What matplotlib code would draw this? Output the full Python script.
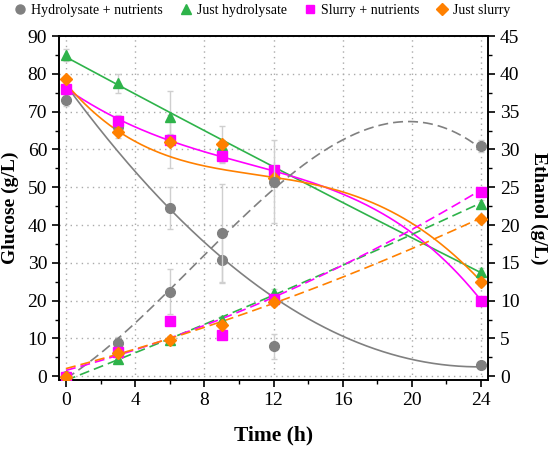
import numpy as np
import matplotlib
matplotlib.use("Agg")
import matplotlib.pyplot as plt
from matplotlib.ticker import MultipleLocator
from matplotlib.lines import Line2D

plt.rcParams['font.family'] = ['Liberation Serif', 'DejaVu Serif']

time = [0, 3, 6, 9, 12, 24]
labels = ["Hydrolysate + nutrients", "Just hydrolysate", "Slurry + nutrients", "Just slurry"]
colors = ["#808080", "#2eb34a", "#ff00ff", "#ff8000"]
markers = ["o", "^", "s", "D"]
msizes = [7, 7.5, 6.5, 6.5]

# Glucose (g/L, left axis) - measured points
glu_hyd_nut = [73.0, 66.0, 44.5, 30.7, 7.9, 3.0]
glu_hyd = [85.0, 77.5, 68.5, 61.0, 54.0, 27.5]
glu_slu_nut = [76.0, 67.5, 62.5, 58.3, 54.5, 20.0]
glu_slu = [78.5, 64.5, 62.0, 61.3, 52.5, 24.8]
glu_err_hyd_nut = [1.5, 1.5, 5.5, 6.0, 3.3, 0.8]
glu_err_hyd = [1.5, 2.5, 7.0, 1.5, 1.0, 1.0]
glu_err_slu_nut = [1.0, 1.5, 1.5, 1.5, 1.0, 1.0]
glu_err_slu = [1.0, 1.5, 7.0, 5.0, 1.0, 1.0]

# Ethanol (g/L, right axis) - measured points
eth_hyd_nut = [0.0, 4.4, 11.2, 18.9, 25.7, 30.5]
eth_hyd = [-0.2, 2.3, 4.8, 7.5, 11.0, 22.8]
eth_slu_nut = [-0.1, 3.2, 7.35, 5.4, 10.2, 24.4]
eth_slu = [-0.15, 3.1, 4.75, 6.75, 9.75, 20.8]
eth_err_hyd_nut = [0.3, 0.8, 3.0, 6.5, 5.5, 0.8]
eth_err_hyd = [0.2, 0.3, 0.5, 0.5, 0.5, 0.5]
eth_err_slu_nut = [0.2, 0.3, 0.5, 0.5, 0.5, 0.5]
eth_err_slu = [0.2, 0.3, 0.5, 0.5, 0.5, 0.5]

# Fitted trend curves
fit_time = [0, 4, 8, 12, 16, 20, 24]
fit_glu_hyd_nut = [77.0, 54.2, 35.5, 21.0, 10.4, 4.5, 2.5]
fit_glu_hyd = [84.5, 74.6, 64.9, 55.4, 46.0, 36.7, 27.3]
fit_glu_slu_nut = [76.2, 65.8, 59.5, 54.5, 47.8, 38.2, 20.0]
fit_glu_slu = [77.5, 61.8, 56.0, 52.7, 48.3, 40.8, 25.0]
fit_eth_hyd_nut = [0.0, 6.5, 15.5, 26.0, 31.3, 32.7, 30.5]
fit_eth_time = [0, 6, 12, 20, 24]
fit_eth_hyd = [-0.4, 4.6, 10.9, 18.9, 22.8]
fit_eth_slu_nut = [0.9, 4.8, 10.4, 19.8, 24.4]
fit_eth_slu = [1.1, 4.75, 9.8, 16.9, 20.9]

glu_series = [glu_hyd_nut, glu_hyd, glu_slu_nut, glu_slu]
glu_errs = [glu_err_hyd_nut, glu_err_hyd, glu_err_slu_nut, glu_err_slu]
eth_series = [eth_hyd_nut, eth_hyd, eth_slu_nut, eth_slu]
eth_errs = [eth_err_hyd_nut, eth_err_hyd, eth_err_slu_nut, eth_err_slu]
glu_fits = [(fit_time, fit_glu_hyd_nut, 2), (fit_time, fit_glu_hyd, 2),
            (fit_time, fit_glu_slu_nut, 4), (fit_time, fit_glu_slu, 4)]
eth_fits = [(fit_time, fit_eth_hyd_nut, 3), (fit_eth_time, fit_eth_hyd, 2),
            (fit_eth_time, fit_eth_slu_nut, 2), (fit_eth_time, fit_eth_slu, 2)]

fig = plt.figure(figsize=(5.48, 4.49), dpi=100)
ax = fig.add_axes([0.1077, 0.1537, 0.7828, 0.7661])
ax2 = ax.twinx()

t = np.array(time, dtype=float)
tt = np.linspace(0, 24, 200)
errc = "#cfcfcf"

for i in range(4):
    g = np.array(glu_series[i]); e = np.array(eth_series[i])
    ax.errorbar(t, g, yerr=glu_errs[i], fmt="none", ecolor=errc, elinewidth=1, capsize=2, zorder=2)
    ax2.errorbar(t, e, yerr=eth_errs[i], fmt="none", ecolor=errc, elinewidth=1, capsize=2, zorder=2)
    ft, fv, deg = glu_fits[i]
    pg = np.polyfit(ft, fv, deg)
    ft, fv, deg = eth_fits[i]
    pe = np.polyfit(ft, fv, deg)
    ax.plot(tt, np.polyval(pg, tt), color=colors[i], lw=1.2, zorder=3)
    ax2.plot(tt, np.polyval(pe, tt), color=colors[i], lw=1.2, ls=(0, (6, 3)), zorder=3)
    ax.plot(t, g, ls="none", marker=markers[i], color=colors[i], ms=msizes[i], zorder=4)
    ax2.plot(t, e, ls="none", marker=markers[i], color=colors[i], ms=msizes[i], zorder=4)

ax.set_xlim(-0.4, 24.4)
ax.set_ylim(-1.0, 90)
ax2.set_ylim(-0.5, 45)
ax.xaxis.set_major_locator(MultipleLocator(4))
ax.xaxis.set_minor_locator(MultipleLocator(2))
ax.yaxis.set_major_locator(MultipleLocator(10))
ax.yaxis.set_minor_locator(MultipleLocator(5))
ax2.yaxis.set_major_locator(MultipleLocator(5))
ax2.yaxis.set_minor_locator(MultipleLocator(2.5))

ax.grid(True, which="major", color="#aaaaaa", ls=(0, (1, 3)), lw=1)
for a in (ax, ax2):
    a.tick_params(which="major", direction="out", length=5, width=1.2, labelsize=14)
    a.tick_params(which="minor", direction="out", length=3, width=1.0)
    for s in a.spines.values():
        s.set_linewidth(1.2)

ax.set_xlabel("Time (h)", fontsize=15.5, fontweight="bold", labelpad=12)
ax.set_ylabel("Glucose (g/L)", fontsize=14, fontweight="bold", labelpad=6)
ax2.set_ylabel("Ethanol (g/L)", fontsize=14, fontweight="bold", rotation=270, labelpad=20)

handles = [Line2D([], [], ls="none", marker=markers[i], color=colors[i], ms=msizes[i] - 0.5) for i in range(4)]
fig.legend(handles, labels, loc="upper center", bbox_to_anchor=(0.479, 0.998), ncol=4, frameon=False,
           fontsize=10, handletextpad=0.4, columnspacing=1.25, handlelength=0.8, borderaxespad=0,
           borderpad=0.2)

fig.savefig("out.png", dpi=100)
